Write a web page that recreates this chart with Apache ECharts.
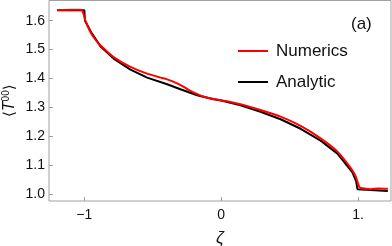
<!DOCTYPE html>
<html><head><meta charset="utf-8">
<script src="https://cdn.jsdelivr.net/npm/echarts@6/dist/echarts.min.js"></script>
<style>html,body{margin:0;padding:0;background:#fff}#c{width:392px;height:246px}</style>
</head><body><div id="c"></div>
<script>
const xTicks = [-1, 0, 1];
const yTicks = [1.0, 1.1, 1.2, 1.3, 1.4, 1.5, 1.6];
const numericsZeta = [-1.2, -1.1, -1.03, -1.015, -1.0, -0.993, -0.956, -0.92, -0.883, -0.786, -0.663, -0.541, -0.45, -0.395, -0.322, -0.27, -0.225, -0.127, -0.005, 0.068, 0.141, 0.287, 0.434, 0.58, 0.726, 0.849, 0.946, 0.982, 1.0, 1.007, 1.019, 1.092, 1.15, 1.217];
const numericsVal = [1.637, 1.638, 1.638, 1.635, 1.615, 1.601, 1.561, 1.535, 1.515, 1.474, 1.440, 1.417, 1.404, 1.397, 1.383, 1.370, 1.357, 1.337, 1.325, 1.319, 1.311, 1.291, 1.268, 1.236, 1.193, 1.147, 1.090, 1.061, 1.035, 1.026, 1.021, 1.017, 1.019, 1.018];
const analyticZeta = [-1.2, -1.0, -0.995, -0.95, -0.883, -0.786, -0.663, -0.541, -0.395, -0.298, -0.176, -0.056, 0, 0.141, 0.287, 0.434, 0.58, 0.726, 0.849, 0.958, 0.985, 0.995, 1.0, 1.217];
const analyticVal = [1.636, 1.636, 1.60, 1.56, 1.512, 1.469, 1.431, 1.403, 1.380, 1.363, 1.342, 1.328, 1.324, 1.307, 1.285, 1.259, 1.226, 1.185, 1.140, 1.075, 1.045, 1.017, 1.011, 1.011];

const zip = (a, b) => a.map((v, i) => [v, b[i]]);
const font = 'Liberation Sans, Arial, sans-serif';
const chart = echarts.init(document.getElementById('c'), null, {renderer: 'canvas'});
chart.setOption({
  animation: false,
  backgroundColor: '#fff',
  title: {text: '(a)', left: 346, top: 11, textStyle: {fontFamily: font, fontSize: 17, fontWeight: 'normal', color: '#111'}},
  legend: {
    data: ['Numerics', 'Analytic'], orient: 'vertical', left: 233, top: 36,
    icon: 'rect', itemWidth: 30, itemHeight: 2, itemGap: 11,
    textStyle: {fontFamily: font, fontSize: 17, color: '#111', padding: [0, 0, 0, 3], lineHeight: 20}
  },
  grid: {left: 49, right: 1, top: 0.5, bottom: 45, show: true, borderColor: '#a0a0a0', borderWidth: 1, outerBoundsMode: 'none', containLabel: false},
  xAxis: {
    type: 'value', min: -1.258, max: 1.24,
    name: 'ζ', nameLocation: 'middle', nameGap: 29, nameMoveOverlap: false,
    nameTextStyle: {fontFamily: font, fontSize: 17, fontStyle: 'italic', color: '#111'},
    axisLine: {show: false, onZero: false},
    axisTick: {show: true, inside: true, length: 4, lineStyle: {color: '#a0a0a0'}, customValues: xTicks},
    axisLabel: {customValues: xTicks, margin: 7, fontFamily: font, fontSize: 14, color: '#111',
      formatter: v => v === -1 ? '−1' : (v === 1 ? '1.' : String(v))},
    splitLine: {show: false}
  },
  yAxis: {
    type: 'value', min: 0.976, max: 1.67,
    name: '{a|⟨}{t|T}{s|00}{a|⟩}', nameLocation: 'middle', nameGap: 30, nameRotate: 90, nameMoveOverlap: false,
    nameTextStyle: {fontFamily: font, fontSize: 15, color: '#111',
      rich: {
        a: {fontFamily: 'DejaVu Sans', fontSize: 15, color: '#111', lineHeight: 18},
        t: {fontFamily: font, fontSize: 16, fontStyle: 'italic', color: '#111', lineHeight: 18},
        s: {fontFamily: font, fontSize: 10, color: '#111', verticalAlign: 'top', lineHeight: 10}
      }},
    axisLine: {show: false, onZero: false},
    axisTick: {show: true, inside: true, length: 4, lineStyle: {color: '#a0a0a0'}, customValues: yTicks},
    axisLabel: {customValues: yTicks, margin: 4, fontFamily: font, fontSize: 14, color: '#111',
      formatter: v => v.toFixed(1)},
    splitLine: {show: false}
  },
  series: [
    {name: 'Analytic', type: 'line', symbol: 'none', data: zip(analyticZeta, analyticVal),
     lineStyle: {color: '#000', width: 2}, itemStyle: {color: '#000'}},
    {name: 'Numerics', type: 'line', symbol: 'none', smooth: 0.2, data: zip(numericsZeta, numericsVal),
     lineStyle: {color: '#ff0000', width: 2}, itemStyle: {color: '#ff0000'}}
  ]
});
</script></body></html>
